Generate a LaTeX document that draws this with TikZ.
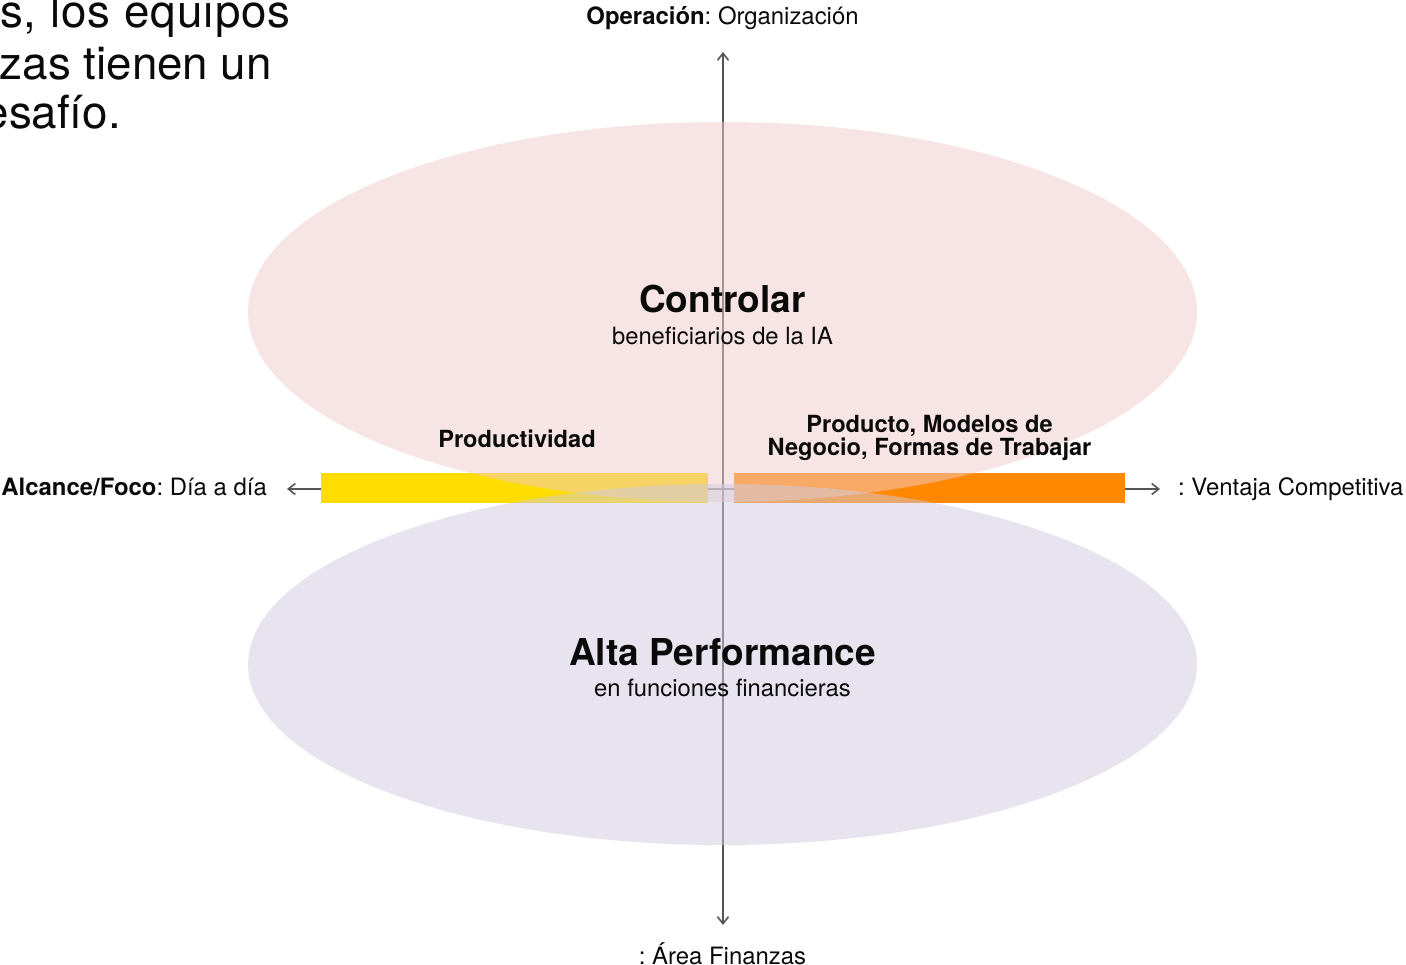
\documentclass[tikz,border=0pt]{standalone}
\usepackage{fontspec}
\setmainfont{TeX Gyre Heros}
\usetikzlibrary{arrows.meta,shapes.geometric}
\definecolor{pinkE}{RGB}{241,203,203}
\definecolor{lavE}{RGB}{209,203,225}
\definecolor{yel}{RGB}{255,221,0}
\definecolor{org}{RGB}{255,136,0}
\definecolor{axisgray}{RGB}{85,85,85}
\definecolor{ink}{RGB}{10,10,10}
\frenchspacing
\begin{document}
\frenchspacing
\begin{tikzpicture}[x=1pt,y=-1pt,
  zone/.style={ellipse, inner sep=0pt, draw=none, fill opacity=0.5},
  barbox/.style={rectangle, inner sep=0pt, draw=none, minimum height=30pt},
  axisline/.style={draw=axisgray, line width=1.6pt,
    {Straight Barb[length=7pt,width=11pt]}-{Straight Barb[length=7pt,width=11pt]}},
  lbl/.style={inner sep=0pt, text=ink, font=\fontsize{23.9}{28}\selectfont\frenchspacing},
  title/.style={inner sep=0pt, anchor=base, text=ink, font=\fontsize{37}{40}\selectfont\bfseries},
  subtitle/.style={inner sep=0pt, anchor=base, text=ink, font=\fontsize{23.8}{28}\selectfont},
  big/.style={inner sep=0pt, anchor=base east, text=ink, font=\fontsize{45.7}{50}\selectfont\frenchspacing}]
\useasboundingbox (0,0) rectangle (1406,965);
\fill[white] (0,0) rectangle (1406,965);
% axes
\coordinate (tTop) at (723,52);
\coordinate (tBot) at (723,925);
\coordinate (tLeft) at (287,489);
\coordinate (tRight) at (1160,489);
\draw[axisline] (tLeft) -- (tRight);
\draw[axisline] (tTop) -- (tBot);
% bars
\node[barbox, fill=yel, minimum width=387pt] (barY) at (514.5,488) {};
\node[barbox, fill=org, minimum width=391pt] (barO) at (929.5,488) {};
% zones
\node[zone, fill=pinkE, minimum width=949pt, minimum height=380pt] (ctrl) at (722.5,312) {};
\node[zone, fill=lavE, minimum width=949pt, minimum height=361pt] (perf) at (722.5,664.5) {};
% texts
\node[big, font=\fontsize{45.7}{50}\selectfont\frenchspacing\addfontfeatures{LetterSpace=2.2}] (p1) at (291,28) {s, los equipos};
\node[big] (p2) at (272,80) {zas tienen un};
\node[big] (p3) at (121,129) {esafío.};
\node[lbl, anchor=base] (lblTop) at (722.5,25) {\textbf{Operación}: Organización};
\node[lbl, anchor=base] (lblBot) at (722.5,964) {: Área Finanzas};
\node[lbl, anchor=base east] (lblLeft) at (267,495) {\textbf{Alcance/Foco}: Día a día};
\node[lbl, anchor=base west] (lblRight) at (1178,495) {: Ventaja Competitiva};
\node[title] (tCtrl) at (722.5,313) {Controlar};
\node[subtitle] (sCtrl) at (722.5,345) {beneficiarios de la IA};
\node[title] (tPerf) at (722.5,665) {Alta Performance};
\node[subtitle] (sPerf) at (722.5,696) {en funciones financieras};
\node[lbl, anchor=base, font=\fontsize{23.6}{28}\selectfont\bfseries] (lProd) at (517,448) {Productividad};
\node[lbl, anchor=base, font=\fontsize{23.6}{28}\selectfont\bfseries\frenchspacing] (lNeg1) at (929.5,432) {Producto, Modelos de};
\node[lbl, anchor=base, font=\fontsize{23.6}{28}\selectfont\bfseries\frenchspacing] (lNeg2) at (929.5,456) {Negocio, Formas de Trabajar};
\end{tikzpicture}
\end{document}
